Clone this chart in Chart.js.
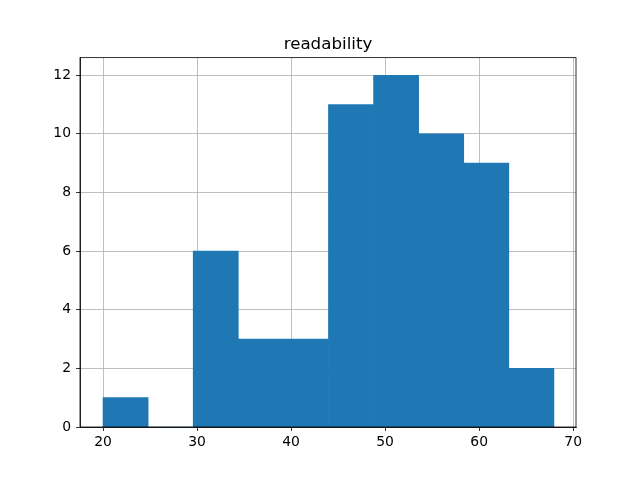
<!DOCTYPE html>
<html lang="en">
<head>
    <meta charset="UTF-8">
    <title>readability</title>
    <script src="https://cdn.jsdelivr.net/npm/chart.js"></script>
    <style>
        body { margin: 0; background: white; }
        canvas { display: block; }
    </style>
</head>
<body>
    <canvas id="histChart" width="640" height="480"></canvas>

    <script>
        // histogram bin edges and counts
        const binEdges = [20.0, 24.795, 29.59, 34.385, 39.18, 43.975, 48.77, 53.565, 58.36, 63.155, 67.95];
        const counts = [1, 0, 6, 3, 3, 11, 12, 10, 9, 2];
        const xTicks = [20, 30, 40, 50, 60, 70];
        const yTicks = [0, 2, 4, 6, 8, 10, 12];

        const points = counts.map((c, i) => ({ x: (binEdges[i] + binEdges[i + 1]) / 2, y: c }));

        // top/right spines, and title centred over the axes
        const frame = {
            id: 'frame',
            afterLayout(chart) {
                const t = chart.titleBlock;
                if (t) {
                    t.left = chart.chartArea.left;
                    t.right = chart.chartArea.right;
                    t.width = t.right - t.left;
                }
            },
            afterDraw(chart) {
                const a = chart.chartArea;
                const ctx = chart.ctx;
                ctx.save();
                ctx.strokeStyle = 'black';
                ctx.lineWidth = 0.8;
                ctx.strokeRect(a.left, a.top, a.right - a.left, a.bottom - a.top);
                ctx.restore();
            }
        };

        const gridOpts = {
            color: '#b0b0b0',
            lineWidth: 0.8,
            tickColor: 'black',
            tickLength: 4,
            tickWidth: 0.8,
            offset: false
        };

        const ctx = document.getElementById('histChart').getContext('2d');
        new Chart(ctx, {
            type: 'bar',
            data: {
                datasets: [{
                    label: 'readability',
                    data: points,
                    backgroundColor: '#1f77b4',
                    borderWidth: 0,
                    barPercentage: 1.0,
                    categoryPercentage: 1.0
                }]
            },
            options: {
                responsive: false,
                animation: false,
                layout: { padding: { left: 0, right: 64, top: 0, bottom: 0 } },
                plugins: {
                    legend: { display: false },
                    tooltip: { enabled: false },
                    title: {
                        display: true,
                        text: 'readability',
                        color: 'black',
                        font: { family: 'DejaVu Sans', size: 16.7, weight: 'normal' },
                        padding: { top: 35, bottom: 2.6 }
                    }
                },
                scales: {
                    x: {
                        type: 'linear',
                        min: 17.55,
                        max: 70.3,
                        offset: false,
                        z: 1,
                        grid: gridOpts,
                        border: { color: 'black', width: 0.8 },
                        afterBuildTicks: s => { s.ticks = xTicks.map(v => ({ value: v })); },
                        afterFit: s => { s.height = 53; },
                        ticks: {
                            includeBounds: false,
                            color: 'black',
                            padding: 3,
                            maxRotation: 0,
                            font: { family: 'DejaVu Sans', size: 13.9 }
                        }
                    },
                    y: {
                        min: 0,
                        max: 12.6,
                        z: 1,
                        grid: gridOpts,
                        border: { color: 'black', width: 0.8 },
                        afterBuildTicks: s => { s.ticks = yTicks.map(v => ({ value: v })); },
                        afterFit: s => { s.width = 80; },
                        ticks: {
                            includeBounds: false,
                            color: 'black',
                            padding: 5,
                            font: { family: 'DejaVu Sans', size: 13.9 }
                        }
                    }
                }
            },
            plugins: [frame]
        });
    </script>
</body>
</html>
